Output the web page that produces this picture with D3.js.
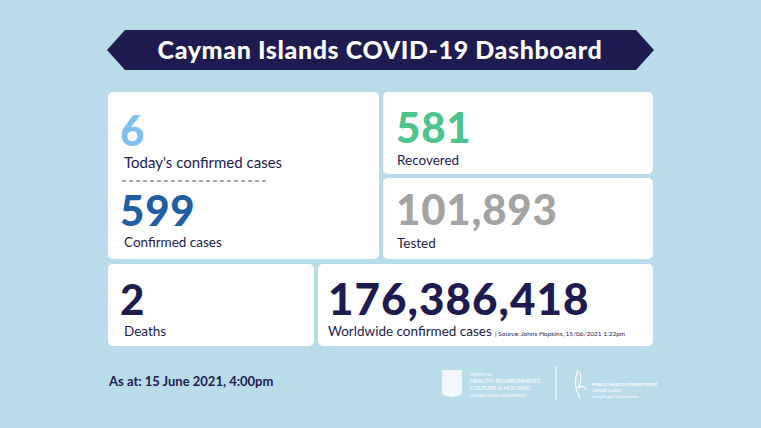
<!DOCTYPE html><html><head><meta charset="utf-8">
<script src="https://cdn.jsdelivr.net/npm/d3@7"></script>
<style>body{margin:0}svg{display:block}</style></head><body>
<script>
const title = "Cayman Islands COVID-19 Dashboard";
const labels = ["Today's confirmed cases","Confirmed cases","Recovered","Tested","Deaths","Worldwide confirmed cases"];
const values = [6, 599, 581, 101893, 2, 176386418];
const colors = ["#7ebfee","#1f5fa3","#4cc48c","#a3a3a3","#1e1b51","#1e1b51"];
const boxes = [[108,92,271,167],[383,92,270,82],[383,178,270,81],[108,264,206,82],[318,264,335,82]];
const pos = [[120,146,124,168],[120,226,124,247],[396,143,397,165],[396,225,397,248],[120,315,124,336],[328,315,328,336]];
const lsize = [15,13.5,13.5,13.5,13.5,13.5];
const W=761,H=428, navy="#1e1b51";
const svg=d3.select("body").append("svg").attr("width",W).attr("height",H);
svg.append("rect").attr("width",W).attr("height",H).attr("fill","#b9dcea");
svg.append("path").attr("d","M107,50 L125,30 L636,30 L654,50 L636,70 L125,70 Z").attr("fill",navy);
svg.append("text").attr("x",380).attr("y",59).attr("text-anchor","middle").attr("fill","#fff")
 .attr("font-family","Lato").attr("font-weight","900").attr("font-size",25).attr("letter-spacing",0.6).text(title);
svg.selectAll("rect.b").data(boxes).join("rect").attr("class","b")
 .attr("x",d=>d[0]).attr("y",d=>d[1]).attr("width",d=>d[2]).attr("height",d=>d[3]).attr("rx",5).attr("fill","#fff");
const fmt=d3.format(",");
values.forEach((v,i)=>{
  const p=pos[i];
  svg.append("text").attr("x",p[0]).attr("y",p[1]).attr("fill",colors[i]).attr("font-family","Lato")
   .attr("font-weight","900").attr("font-size",i==5?44:42).attr("letter-spacing",i==5?1:0.8).text(fmt(v));
  svg.append("text").attr("x",p[2]).attr("y",p[3]).attr("fill",navy).attr("font-family","Lato")
   .attr("font-size",lsize[i]).text(labels[i]);
});
svg.append("line").attr("x1",122).attr("x2",266).attr("y1",181).attr("y2",181)
 .attr("stroke","#555").attr("stroke-dasharray","4,3").attr("stroke-width",1);
svg.append("text").attr("x",495).attr("y",336).attr("fill",navy).attr("font-family","Lato").attr("font-size",6.5)
 .text("| Source: Johns Hopkins, 15/06/2021 1:22pm");
svg.append("text").attr("x",109).attr("y",386).attr("fill",navy).attr("font-family","Lato").attr("font-weight","700")
 .attr("font-size",13).text("As at: 15 June 2021, 4:00pm");
// logos
svg.append("path").attr("d","M442,370 h20 v24 q-10,6 -20,0 Z").attr("fill","#fff").attr("opacity",0.8);
["MINISTRY OF","HEALTH, ENVIRONMENT,","CULTURE & HOUSING","CAYMAN ISLANDS GOVERNMENT"].forEach((t,i)=>
 svg.append("text").attr("x",470).attr("y",[376,383,390,397][i]).attr("fill","#fff").attr("font-family","Lato")
  .attr("font-size",[3.5,6,6,3.5][i]).text(t));
svg.append("line").attr("x1",556).attr("x2",556).attr("y1",366).attr("y2",400).attr("stroke","#fff");
svg.append("path").attr("d","M578,370 q-6,14 2,28 M580,372 q2,10 -2,16 q6,-4 8,2").attr("fill","none").attr("stroke","#fff").attr("stroke-width",1.2);
["PUBLIC HEALTH DEPARTMENT","CAYMAN ISLANDS","Caring People. Quality Service."].forEach((t,i)=>
 svg.append("text").attr("x",592).attr("y",[386,392,398][i]).attr("fill","#fff").attr("font-family","Lato")
  .attr("font-weight",i==0?"700":"400").attr("font-size",[4.5,3.5,3.5][i]).text(t));
</script></body></html>
